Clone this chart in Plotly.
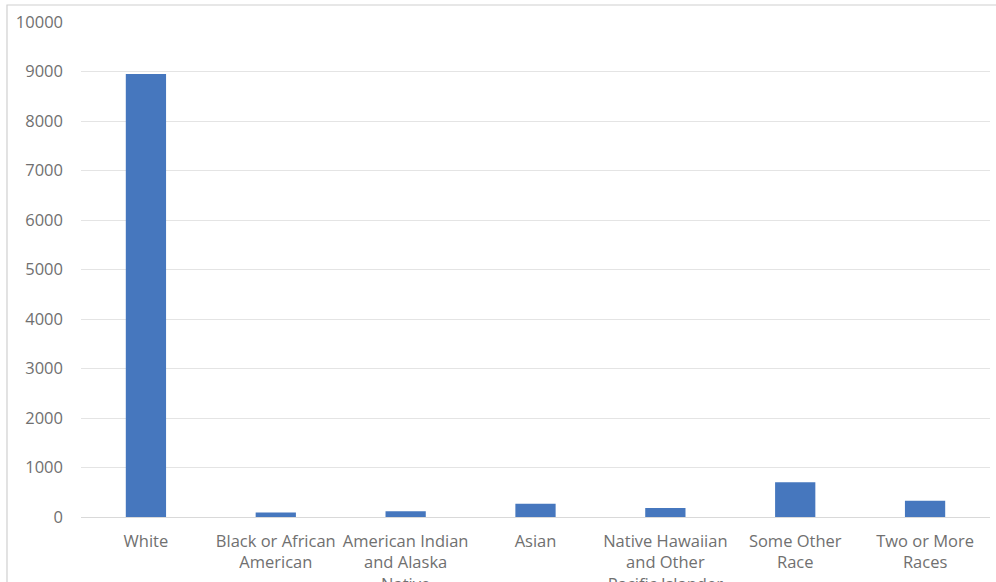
import plotly.graph_objects as go

# Population by race
categories = [
    "White",
    "Black or African<br>American",
    "American Indian<br>and Alaska<br>Native",
    "Asian",
    "Native Hawaiian<br>and Other<br>Pacific Islander",
    "Some Other<br>Race",
    "Two or More<br>Races",
]
counts = [8950, 90, 115, 270, 180, 700, 330]
y_ticks = [0, 1000, 2000, 3000, 4000, 5000, 6000, 7000, 8000, 9000, 10000]

W, H = 1000, 600
L, R, T, B = 81, 10, 22, 83
plot_w = W - L - R
plot_h = H - T - B

fig = go.Figure(
    go.Bar(
        x=categories,
        y=counts,
        marker=dict(color="#4677BE", line=dict(width=0)),
        width=0.31,
        hoverinfo="x+y",
    )
)

# chart frame
fig.add_shape(
    type="rect",
    xref="paper", yref="paper",
    x0=(7 - L) / plot_w, x1=(W + 20 - L) / plot_w,
    y0=-(B + 20) / plot_h, y1=1 + (T - 5) / plot_h,
    line=dict(color="#D0D0D0", width=1.2),
    fillcolor="rgba(0,0,0,0)",
    layer="below",
)

font_family = "Open Sans, Liberation Sans, sans-serif"
label_color = "#707070"
fig.update_layout(
    width=W,
    height=H,
    margin=dict(l=L, r=R, t=T, b=B, pad=0, autoexpand=False),
    paper_bgcolor="white",
    plot_bgcolor="white",
    showlegend=False,
    font=dict(family=font_family, size=16.5, color=label_color),
    xaxis=dict(
        automargin=False,
        showgrid=False,
        showline=True,
        linecolor="#D9D9D9",
        linewidth=1,
        ticks="",
        tickfont=dict(size=16.5, color=label_color),
        ticklabelstandoff=9,
        fixedrange=True,
    ),
    yaxis=dict(
        automargin=False,
        range=[0, 10000],
        tickvals=y_ticks,
        ticktext=[str(v) for v in y_ticks],
        showgrid=True,
        gridcolor="#E4E4E4",
        gridwidth=1,
        zeroline=False,
        showline=False,
        ticks="",
        tickfont=dict(size=16.5, color=label_color),
        ticklabelstandoff=17,
        fixedrange=True,
    ),
)

fig.write_html("out.html")
